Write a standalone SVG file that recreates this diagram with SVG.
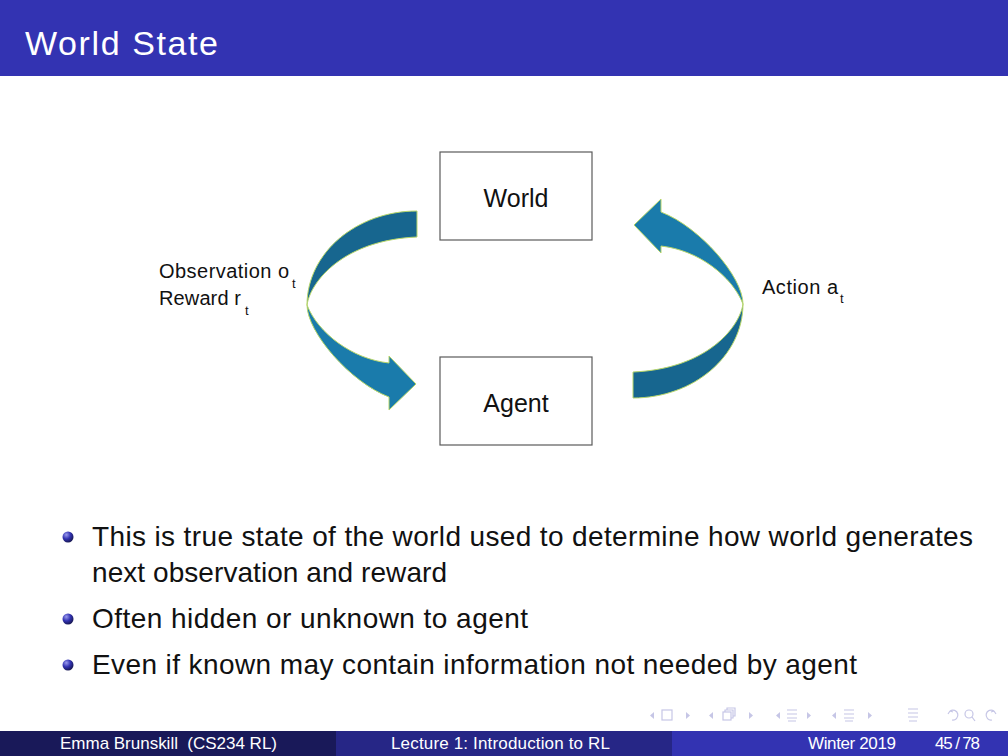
<svg xmlns="http://www.w3.org/2000/svg" width="1008" height="756" viewBox="0 0 1008 756">
<style>
.t{font-family:"Liberation Sans",Arial,sans-serif;white-space:pre}
.title{fill:#fff;font-size:34px}
.box{fill:#fff;stroke:#5a5a5a;stroke-width:1.2}
.lbl{fill:#111;font-size:25px}
.side{fill:#111;font-size:20px}
.sub{fill:#111;font-size:13px}
.body{fill:#111;font-size:28px}
.foot{fill:#fff;font-size:17px}
.dark{fill:#17668f;stroke:#b7d66a;stroke-width:1}
.light{fill:#1a7bab;stroke:#b7d66a;stroke-width:1}
.nav{fill:none;stroke:#c6c6e6;stroke-width:1.2}
.navf{fill:#c6c6e6}
</style>
<defs>
<radialGradient id="ball" cx="0.35" cy="0.3" r="0.75">
<stop offset="0" stop-color="#9a9aee"/>
<stop offset="0.5" stop-color="#3333b2"/>
<stop offset="1" stop-color="#14144a"/>
</radialGradient>
<g id="arrow">
<path class="dark" d="M417,211 C356.3,211 307,253.1 307,305 C311,280 345,240 417,237 Z"/>
<path class="light" d="M307,305 C307,332 350,382 389,397 L389,410 L416,384 L389,356 L389,363 C352,359 318,333 307,305 Z"/>
</g>
</defs>
<rect x="0" y="0" width="1008" height="756" fill="#fff"/>
<g id="header">
<rect x="0" y="0" width="1008" height="76" fill="#3333b2"/>
<text class="t title" x="25" y="55" textLength="193">World State</text>
</g>
<g id="connectors">
<use href="#arrow"/>
<use href="#arrow" transform="rotate(180 525 304.5)"/>
</g>
<g id="world">
<rect class="box" x="440" y="152" width="152" height="88"/>
<text class="t lbl" x="516" y="207" text-anchor="middle">World</text>
</g>
<g id="agent">
<rect class="box" x="440" y="357" width="152" height="88"/>
<text class="t lbl" x="516" y="412" text-anchor="middle">Agent</text>
</g>
<g id="obs-label">
<text class="t side" x="159" y="278" textLength="130">Observation o</text>
<text class="t sub" x="292" y="288">t</text>
<text class="t side" x="159" y="305" textLength="82">Reward r</text>
<text class="t sub" x="245" y="315">t</text>
</g>
<g id="action-label">
<text class="t side" x="762" y="294" textLength="76">Action a</text>
<text class="t sub" x="840" y="303">t</text>
</g>
<g id="bullets">
<circle cx="68" cy="537" r="5.5" fill="url(#ball)"/>
<text class="t body" x="92" y="546" textLength="881">This is true state of the world used to determine how world generates</text>
<text class="t body" x="92" y="582" textLength="355">next observation and reward</text>
<circle cx="68" cy="619" r="5.5" fill="url(#ball)"/>
<text class="t body" x="92" y="628" textLength="436">Often hidden or unknown to agent</text>
<circle cx="68" cy="665" r="5.5" fill="url(#ball)"/>
<text class="t body" x="92" y="674" textLength="765">Even if known may contain information not needed by agent</text>
</g>
<g id="nav">
<path class="navf" d="M654,712 L650,715.5 L654,719 Z"/>
<rect class="nav" x="662" y="710" width="10" height="10"/>
<path class="navf" d="M686,712 L690,715.5 L686,719 Z"/>
<path class="navf" d="M713,712 L709,715.5 L713,719 Z"/>
<rect class="nav" x="723" y="712" width="8" height="8"/>
<path class="nav" d="M725,712 V710 H733 V718 H731 M727,710 V708 H735 V716 H733"/>
<path class="navf" d="M749,712 L753,715.5 L749,719 Z"/>
<path class="navf" d="M780,712 L776,715.5 L780,719 Z"/>
<path class="nav" d="M787,710 H797 M787,714 H797 M787,718 H797 M788,721 H796"/>
<path class="navf" d="M807,712 L811,715.5 L807,719 Z"/>
<path class="navf" d="M836,712 L832,715.5 L836,719 Z"/>
<path class="nav" d="M844,710 H854 M844,714 H854 M844,718 H854 M845,721 H853"/>
<path class="navf" d="M868,712 L872,715.5 L868,719 Z"/>
<path class="nav" d="M908,709 H918 M908,713 H918 M908,717 H918 M909,721 H917"/>
<path class="nav" d="M950,711 A5,5 0 1 1 952,720 M950,711 L948,714 M950,711 L953,712"/>
<circle class="nav" cx="969" cy="714" r="4"/>
<path class="nav" d="M972,717 L975,721"/>
<path class="nav" d="M994,711 A5,5 0 1 0 992,720 M994,711 L996,714 M994,711 L991,712"/>
</g>
<g id="footer">
<rect x="0" y="731" width="336" height="25" fill="#191959"/>
<rect x="336" y="731" width="336" height="25" fill="#262686"/>
<rect x="672" y="731" width="336" height="25" fill="#3333b2"/>
<text class="t foot" x="60" y="749" textLength="217">Emma Brunskill  (CS234 RL)</text>
<text class="t foot" x="391" y="749" textLength="219">Lecture 1: Introduction to RL</text>
<text class="t foot" x="808" y="749" textLength="88">Winter 2019</text>
<text class="t foot" x="935" y="749" textLength="45">45 / 78</text>
</g>
</svg>
